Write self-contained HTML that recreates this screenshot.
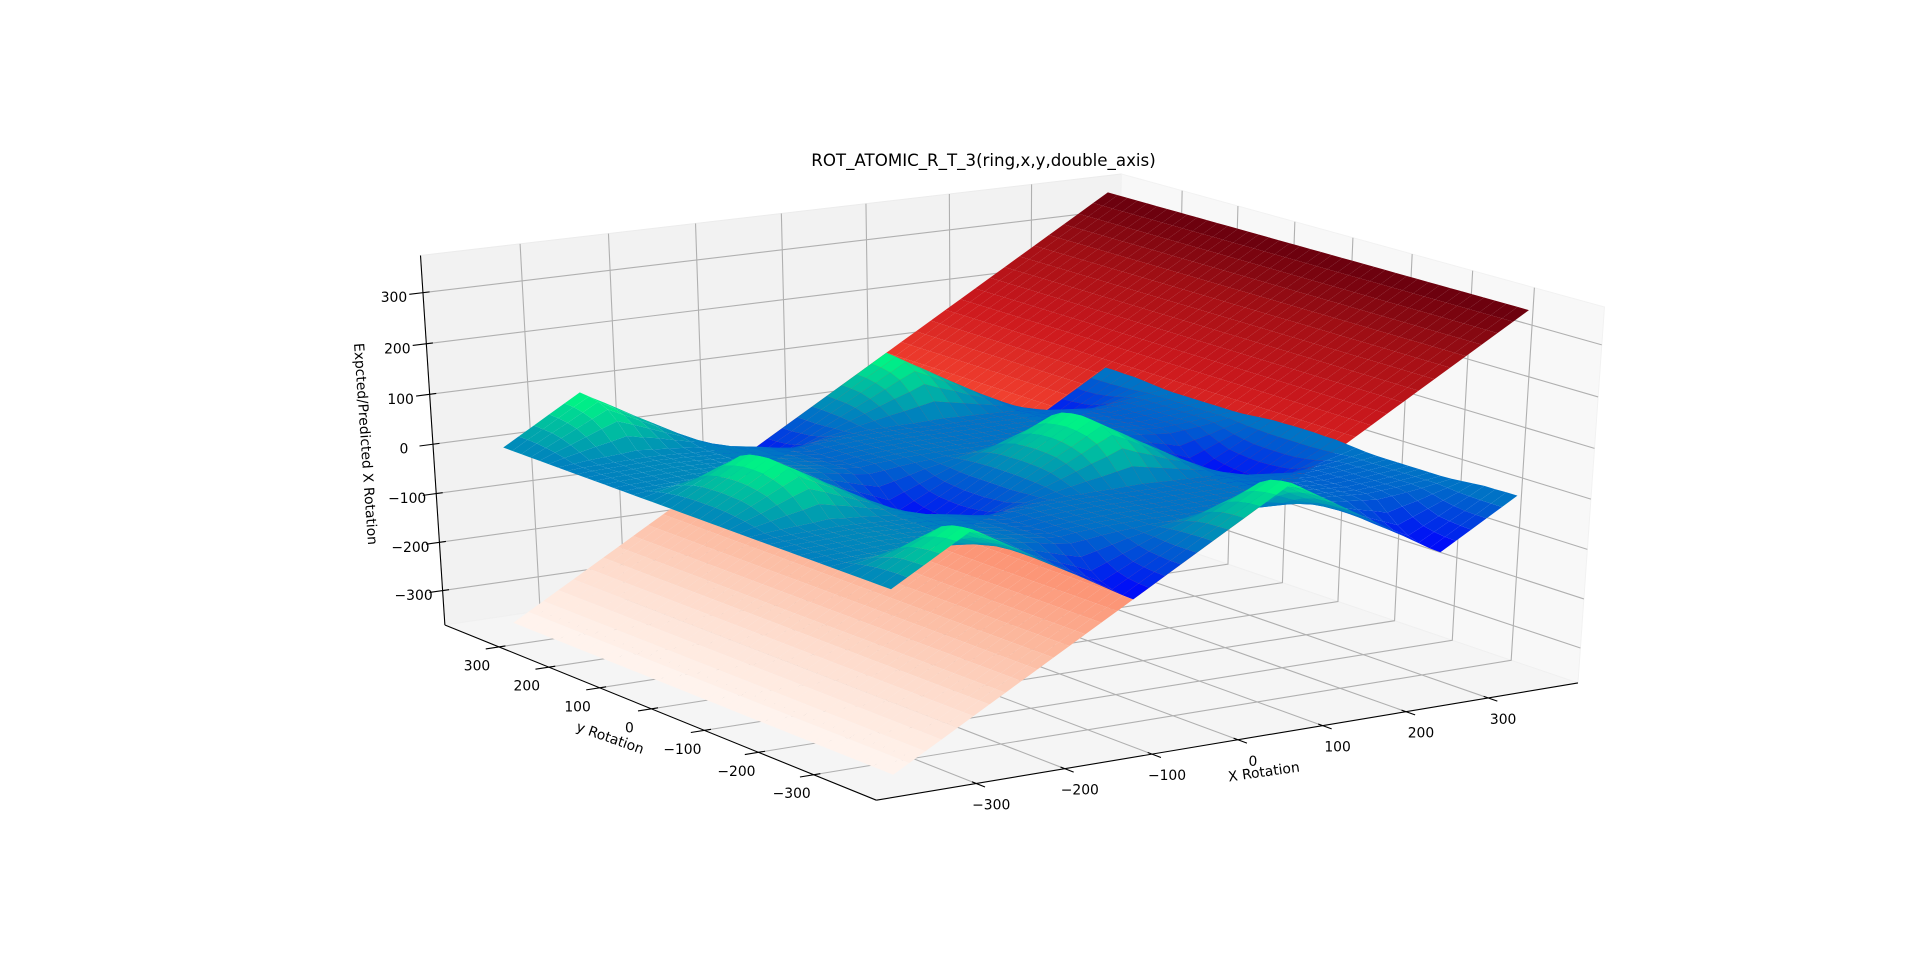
<!DOCTYPE html>
<html>
<head>
<meta charset="utf-8">
<title>ROT_ATOMIC_R_T_3 surface chart</title>
<style>
html,body{margin:0;padding:0;background:#fff;width:1920px;height:957px;overflow:hidden}
svg{display:block}
text{font-family:"DejaVu Sans","Liberation Sans",sans-serif;fill:#000}
</style>
</head>
<body>
<svg id="chart" xmlns="http://www.w3.org/2000/svg" width="1920" height="957" viewBox="0 0 1920 957">
<rect x="0" y="0" width="1920" height="957" fill="#fff"/>
<g id="panes"></g>
<g id="grid"></g>
<g id="axes"></g>
<g id="expected"></g>
<g id="predicted"></g>
<g id="labels"></g>
<text x="983.5" y="160.5" font-size="16.67" text-anchor="middle" dominant-baseline="central">ROT_ATOMIC_R_T_3(ring,x,y,double_axis)</text>
<text x="1264" y="772.5" font-size="13.89" text-anchor="middle" dominant-baseline="central" transform="rotate(-8 1264 772.5)">X Rotation</text>
<text x="610" y="738.5" font-size="13.89" text-anchor="middle" dominant-baseline="central" transform="rotate(19.5 610 738.5)">y Rotation</text>
<text x="365" y="444" font-size="13.89" text-anchor="middle" dominant-baseline="central" transform="rotate(86 365 444)">Expcted/Predicted X Rotation</text>
</svg>
<script>
// ---- chart data ----
const xTickValues = [-300,-200,-100,0,100,200,300];
const yTickValues = [-300,-200,-100,0,100,200,300];
const zTickValues = [-300,-200,-100,0,100,200,300];
const xSamples = [-360,-342,-324,-306,-288,-270,-252,-234,-216,-198,-180,-162,-144,-126,-108,-90,-72,-54,-36,-18,0,18,36,54,72,90,108,126,144,162,180,198,216,234,252,270,288,306,324,342,360];
const ySamples = [-360,-342,-324,-306,-288,-270,-252,-234,-216,-198,-180,-162,-144,-126,-108,-90,-72,-54,-36,-18,0,18,36,54,72,90,108,126,144,162,180,198,216,234,252,270,288,306,324,342,360];
const expectedByX = [-360,-342,-324,-306,-288,-270,-252,-234,-216,-198,-180,-162,-144,-126,-108,-90,-72,-54,-36,-18,0,18,36,54,72,90,108,126,144,162,180,198,216,234,252,270,288,306,324,342,360];
const rowPeak = [0,18,36,54,72,90,72,54,36,18,0,-18,-36,-54,-72,-90,-72,-54,-36,-18,0,18,36,54,72,90,72,54,36,18,0,-18,-36,-54,-72,-90,-72,-54,-36,-18,0];
const rowCrest = [0,18,35,53,71,88,71,53,35,18,0,-18,-35,-53,-71,-89,-71,-53,-36,-18,0,17,35,53,70,88,70,53,35,17,0,-18,-36,-53,-71,-89,-71,-53,-36,-18,0];
const rowNearCrest = [0,17,34,50,67,84,67,50,34,17,0,-17,-34,-51,-68,-85,-68,-51,-34,-18,-1,16,33,49,66,83,66,49,33,16,-1,-18,-35,-51,-68,-85,-68,-51,-35,-18,-1];
const rowShoulder = [0,15,30,45,60,75,60,45,30,15,0,-15,-31,-46,-62,-77,-62,-47,-32,-17,-2,13,27,42,57,71,57,42,27,13,-2,-17,-32,-48,-63,-78,-63,-48,-32,-17,-1];
const rowSlope = [0,12,23,35,47,58,47,35,23,12,0,-12,-25,-38,-50,-63,-51,-39,-27,-15,-4,7,18,29,39,51,39,29,17,7,-5,-17,-28,-40,-52,-64,-52,-40,-28,-16,-3];
const rowLowSlope = [0,8,15,22,28,35,28,22,14,7,0,-8,-17,-26,-35,-43,-36,-28,-20,-14,-7,-1,5,10,16,22,16,10,4,-2,-8,-15,-23,-31,-38,-46,-38,-31,-22,-14,-5];
const rowFoot = [0,3,6,8,10,13,10,8,5,2,0,-4,-9,-14,-20,-24,-21,-17,-14,-12,-9,-9,-8,-8,-7,-6,-7,-8,-9,-10,-11,-14,-18,-21,-24,-27,-24,-21,-17,-12,-7];
const rowFlat = [0,2,3,4,5,6,5,4,2,1,0,-3,-7,-11,-15,-18,-14,-12,-10,-9,-8,-8,-8,-9,-9,-9,-9,-9,-9,-9,-9,-14,-16,-18,-20,-22,-20,-18,-15,-12,-8];
const predictedRows = [
  rowPeak,rowCrest,rowNearCrest,rowShoulder,rowSlope,rowLowSlope,rowFoot,
  rowFlat,rowFlat,rowFlat,rowFlat,rowFlat,rowFlat,rowFlat,
  rowFoot,rowLowSlope,rowSlope,rowShoulder,rowNearCrest,rowCrest,rowPeak,rowCrest,rowNearCrest,rowShoulder,rowSlope,rowLowSlope,rowFoot,
  rowFlat,rowFlat,rowFlat,rowFlat,rowFlat,rowFlat,rowFlat,
  rowFoot,rowLowSlope,rowSlope,rowShoulder,rowNearCrest,rowCrest,rowPeak
];

// ---- axis scales (normalised cube coordinates) ----
const X_LIMIT = 411, Y_LIMIT = 411, Z_LIMIT = 372;
function xScale(v){ return v / X_LIMIT; }
function yScale(v){ return v / Y_LIMIT; }
function zScale(v){ return v / Z_LIMIT; }

// ---- camera fit: pixel landmarks of the cube, ticks and surface corners ----
const a = xScale(360), c = zScale(360);
const cubeCorners = [
  [-1,-1,-1,875.7,799.7],[1,-1,-1,1578.7,683.7],[-1,1,-1,444.6,626.3],
  [-1,1,1,418.6,257.7],[1,1,1,1122,172.3],[1,-1,1,1605.2,307.7]
];
const landmarks = [
  [-a,-a,-c,894.6,771.7],[a,a,c,1107.3,193.3],[a,-a,c,1527,312.3],[-a,a,-c,516,621.7],
  [-a,a,0,504.3,447.3],[-a,-a,0,890,587.7],[a,-a,0,1515.6,499.3],[a,a,0,1105,371],
  [1,yScale(200),-1,1225.2,563.3],[1,yScale(100),-1,1279.9,582.7],[1,0,-1,1336.7,601.7],
  [1,yScale(-100),-1,1393.5,621.3],[1,yScale(-200),-1,1451.6,641],[1,yScale(-300),-1,1510.5,661.3],
  [xScale(-300),1,1,520,246],[xScale(-200),1,1,608.9,235],[xScale(-100),1,1,696.8,224.3],[0,1,1,783.6,213.7],
  [xScale(100),1,1,869.6,203],[xScale(200),1,1,954.6,192.7],[xScale(300),1,1,1037.9,183.3],
  [1,yScale(300),1,1178,188.3],[1,yScale(200),1,1234.8,204],[1,yScale(100),1,1292.5,220],[1,0,1,1351.4,236.7],
  [1,yScale(-100),1,1411.2,253.3],[1,yScale(-200),1,1472.2,270.7],[1,yScale(-300),1,1534.5,288.3],
  [-1,1,zScale(300),422,291.7],[-1,1,zScale(200),425.7,342.7],[-1,1,zScale(100),429.3,393.3],[-1,1,0,432.9,444],
  [-1,1,zScale(-100),436.8,492.7],[-1,1,zScale(-200),438.9,542.3],[-1,1,zScale(-300),442.9,590.7],
  [xScale(-300),-1,-1,974.7,782.3],[xScale(-200),-1,-1,1065.2,767.7],[xScale(-100),-1,-1,1151.5,753.3],[0,-1,-1,1238.6,739.3],
  [xScale(100),-1,-1,1324,725.7],[xScale(200),-1,-1,1409,711.7],[xScale(300),-1,-1,1492.4,697.7],
  [-1,yScale(300),-1,498.2,646.7],[-1,yScale(200),-1,548.2,666.7],[-1,yScale(100),-1,598.2,688.3],[-1,0,-1,651.8,709],
  [-1,yScale(-100),-1,705.4,730],[-1,yScale(-200),-1,758.9,752.3],[-1,yScale(-300),-1,814.3,774.3]
];
const calibration = cubeCorners.concat(cubeCorners,cubeCorners,landmarks);
function solveCamera(points){
  const n = 11, M = [];
  for(let i=0;i<n;i++){ M.push(new Array(n+1).fill(0)); }
  function add(r,b){
    for(let i=0;i<n;i++){
      for(let j=0;j<n;j++){ M[i][j]+=r[i]*r[j]; }
      M[i][n]+=r[i]*b;
    }
  }
  points.forEach(function(p){
    const X=p[0],Y=p[1],Z=p[2],u=p[3]/1000,v=p[4]/1000;
    add([X,Y,Z,1,0,0,0,0,-u*X,-u*Y,-u*Z],u);
    add([0,0,0,0,X,Y,Z,1,-v*X,-v*Y,-v*Z],v);
  });
  for(let i=0;i<n;i++){
    let best=i;
    for(let r=i+1;r<n;r++){ if(Math.abs(M[r][i])>Math.abs(M[best][i])) best=r; }
    const t=M[i]; M[i]=M[best]; M[best]=t;
    for(let r=0;r<n;r++){
      if(r===i) continue;
      const f=M[r][i]/M[i][i];
      for(let k=i;k<=n;k++){ M[r][k]-=f*M[i][k]; }
    }
  }
  const s=[];
  for(let i=0;i<n;i++){ s.push(M[i][n]/M[i][i]); }
  return s;
}
const cam = solveCamera(calibration);
function project(X,Y,Z){
  const w = cam[8]*X+cam[9]*Y+cam[10]*Z+1;
  return [1000*(cam[0]*X+cam[1]*Y+cam[2]*Z+cam[3])/w, 1000*(cam[4]*X+cam[5]*Y+cam[6]*Z+cam[7])/w];
}
function closeness(X,Y,Z){ return -0.48*X-0.83*Y+0.26*Z; }

const NS = 'http://www.w3.org/2000/svg';
const panesG = document.getElementById('panes');
const gridG = document.getElementById('grid');
const axesG = document.getElementById('axes');
const labelsG = document.getElementById('labels');
function pts(list){ return list.map(function(q){ return q[0].toFixed(2)+','+q[1].toFixed(2); }).join(' '); }

// ---- panes ----
const paneLeft = document.createElementNS(NS,'polygon');


paneLeft.setAttribute('points',pts([project(-1,1,-1),project(1,1,-1),project(1,1,1),project(-1,1,1)]));
paneLeft.setAttribute('fill','#f2f2f2');
paneLeft.setAttribute('stroke','#ececec');
panesG.appendChild(paneLeft);
const paneRight = document.createElementNS(NS,'polygon');


paneRight.setAttribute('points',pts([project(1,1,-1),project(1,-1,-1),project(1,-1,1),project(1,1,1)]));
paneRight.setAttribute('fill','#f8f8f8');
paneRight.setAttribute('stroke','#f2f2f2');
panesG.appendChild(paneRight);
const paneFloor = document.createElementNS(NS,'polygon');


paneFloor.setAttribute('points',pts([project(-1,-1,-1),project(1,-1,-1),project(1,1,-1),project(-1,1,-1)]));
paneFloor.setAttribute('fill','#f5f5f5');
paneFloor.setAttribute('stroke','#f0f0f0');
panesG.appendChild(paneFloor);

// ---- grid lines, ticks, tick labels ----
const TICK_OUT = 0.037, TICK_IN = 0.018;
function tickText(v){ return v<0 ? '\u2212'+Math.abs(v) : String(v); }
function addTick(p,q){
  const t = document.createElementNS(NS,'line');
  
  
  t.setAttribute('x1',p[0]);t.setAttribute('y1',p[1]);t.setAttribute('x2',q[0]);t.setAttribute('y2',q[1]);
  t.setAttribute('stroke','#000');t.setAttribute('stroke-width','1.1');
  axesG.appendChild(t);
}
function addGrid(list){
  const g = document.createElementNS(NS,'polyline');
  
  
  g.setAttribute('points',pts(list));
  g.setAttribute('fill','none');g.setAttribute('stroke','#b0b0b0');g.setAttribute('stroke-width','1.1');
  gridG.appendChild(g);
}
function addLabel(p,dx,dy,v){
  const l = document.createElementNS(NS,'text');
  
  
  l.setAttribute('x',p[0]+dx);l.setAttribute('y',p[1]+dy);
  l.setAttribute('font-size','13.89');l.setAttribute('text-anchor','middle');l.setAttribute('dominant-baseline','central');
  l.textContent = tickText(v);
  labelsG.appendChild(l);
}
xTickValues.forEach(function(v){
  const n = xScale(v);
  addGrid([project(n,-1,-1),project(n,1,-1),project(n,1,1)]);
  addTick(project(n,-1-TICK_OUT,-1),project(n,-1+TICK_IN,-1));
  addLabel(project(n,-1,-1),15,22,v);
});
yTickValues.forEach(function(v){
  const n = yScale(v);
  addGrid([project(-1,n,-1),project(1,n,-1),project(1,n,1)]);
  addTick(project(-1-TICK_OUT,n,-1),project(-1+TICK_IN,n,-1));
  addLabel(project(-1,n,-1),-22,19.5,v);
});
zTickValues.forEach(function(v){
  const n = zScale(v);
  addGrid([project(-1,1,n),project(1,1,n),project(1,-1,n)]);
  addTick(project(-1-TICK_OUT,1,n),project(-1+TICK_IN,1,n));
  addLabel(project(-1,1,n),-29,5.5,v);
});

// ---- axis spines ----
function addSpine(p,q){
  const s = document.createElementNS(NS,'line');
  
  
  s.setAttribute('x1',p[0]);s.setAttribute('y1',p[1]);s.setAttribute('x2',q[0]);s.setAttribute('y2',q[1]);
  s.setAttribute('stroke','#000');s.setAttribute('stroke-width','1.1');
  axesG.appendChild(s);
}
addSpine(project(-1,-1,-1),project(1,-1,-1));
addSpine(project(-1,-1,-1),project(-1,1,-1));
addSpine(project(-1,1,-1),project(-1,1,1));

// ---- colour maps ----
const redsStops = [[255,245,240],[254,224,210],[252,187,161],[252,146,114],[251,106,74],[239,59,44],[203,24,29],[165,15,21],[103,0,13]];
function redsColor(t){
  const f = Math.max(0,Math.min(1,t))*8, i = Math.min(7,Math.floor(f)), k = f-i;
  const A = redsStops[i], B = redsStops[i+1];
  return 'rgb('+Math.round(A[0]+(B[0]-A[0])*k)+','+Math.round(A[1]+(B[1]-A[1])*k)+','+Math.round(A[2]+(B[2]-A[2])*k)+')';
}
function winterColor(t){
  const v = Math.max(0,Math.min(1,t));
  return 'rgb(0,'+Math.round(255*v)+','+Math.round(255*(1-v/2))+')';
}

// ---- surfaces ----
function drawSurface(target,zAt,colorFn,cellName){
  let lo = Infinity, hi = -Infinity;
  ySamples.forEach(function(_,j){ xSamples.forEach(function(_,i){ const z = zAt(j,i); if(z<lo) lo=z; if(z>hi) hi=z; }); });
  const cells = [];
  for(let j=0;j<ySamples.length-1;j++){
    for(let i=0;i<xSamples.length-1;i++){
      const corners = [[i,j],[i+1,j],[i+1,j+1],[i,j+1]];
      let sx=0,sy=0,sz=0,zs=0;
      const poly = corners.map(function(cn){
        const X = xScale(xSamples[cn[0]]), Y = yScale(ySamples[cn[1]]), zv = zAt(cn[1],cn[0]), Z = zScale(zv);
        sx+=X;sy+=Y;sz+=Z;zs+=zv;
        return project(X,Y,Z);
      });
      cells.push({poly:poly,d:closeness(sx/4,sy/4,sz/4),t:(zs/4-lo)/(hi-lo)});
    }
  }
  cells.sort(function(p,q){ return p.d-q.d; });
  cells.forEach(function(cell){
    const el = document.createElementNS(NS,'polygon');
    
    
    el.setAttribute('points',pts(cell.poly));
    el.setAttribute('fill',colorFn(cell.t));
    target.appendChild(el);
  });
}
drawSurface(document.getElementById('expected'),function(j,i){ return expectedByX[i]; },redsColor,'expected-surface-cell');
drawSurface(document.getElementById('predicted'),function(j,i){ return predictedRows[j][i]; },winterColor,'predicted-surface-cell');
</script>
</body>
</html>
